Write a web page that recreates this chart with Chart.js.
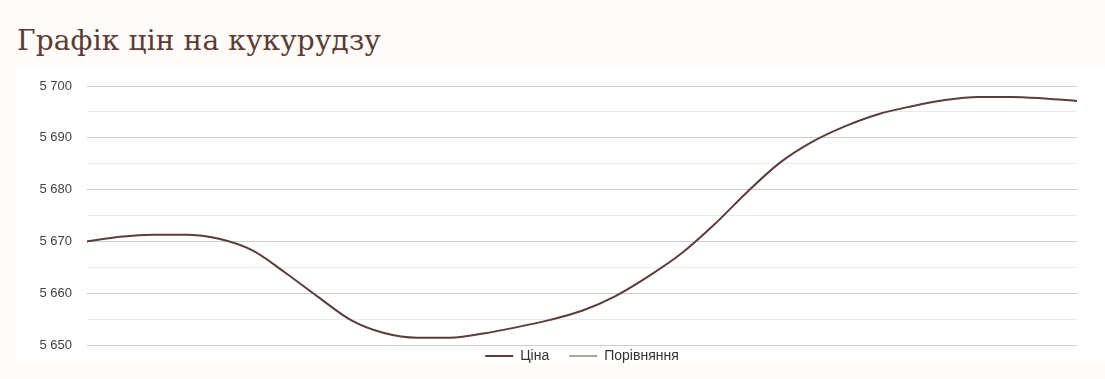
<!DOCTYPE html>
<html>
<head>
<meta charset="utf-8">
<script src="https://cdn.jsdelivr.net/npm/chart.js@4"></script>
<style>
  html, body { margin:0; padding:0; background:#fffbf8; width:1105px; height:379px; overflow:hidden; }
  #title { position:absolute; left:17px; top:24px; font-family:"DejaVu Serif", serif; font-size:28px; color:#5b3b35; white-space:nowrap; letter-spacing:0.15px; }
  #box { position:absolute; left:17px; top:66px; width:1088px; height:298px; background:#ffffff; }
  canvas { display:block; }
</style>
</head>
<body>
<div id="title">Графік цін на кукурудзу</div>
<div id="box"><canvas id="c" width="1088" height="298"></canvas></div>
<script>
const labels = ["1","2","3","4","5","6","7","8","9","10","11","12","13","14","15","16","17","18","19","20","21","22","23","24","25","26","27","28","29","30","31"];
const priceValues = [5670.0,5670.9,5671.3,5671.3,5670.5,5668.3,5664.0,5659.3,5654.8,5652.3,5651.4,5651.4,5652.2,5653.4,5654.8,5656.6,5659.4,5663.2,5667.6,5673.2,5679.5,5685.2,5689.3,5692.3,5694.6,5696.1,5697.3,5697.9,5697.9,5697.6,5697.1];
const compareValues = [];
const seriesNames = ["Ціна", "Порівняння"];
const yMin = 5650, yMax = 5700, yStep = 5;

const fmt = v => String(v).replace(/\B(?=(\d{3})+(?!\d))/g, " ");

const legendTweak = {
  id: 'legendTweak',
  beforeInit(chart) {
    const lg = chart.legend;
    if (!lg) return;
    const origFit = lg.fit.bind(lg);
    lg.fit = function () { origFit(); this.height = 19; };
    const origDraw = lg.draw.bind(lg);
    lg.draw = function () {
      const st = this.top, sb = this.bottom;
      this.top = chart.chartArea.bottom + 11 - 27;
      this.bottom = chart.height;
      origDraw();
      this.top = st; this.bottom = sb;
    };
  }
};

new Chart(document.getElementById('c'), {
  type: 'line',
  data: {
    labels: labels,
    datasets: [
      { label: seriesNames[0], data: priceValues, borderColor: '#5b3d39', backgroundColor: '#5b3d39', borderWidth: 2, pointRadius: 0, cubicInterpolationMode: 'monotone', fill: false },
      { label: seriesNames[1], data: compareValues, borderColor: '#a9a898', backgroundColor: '#a9a898', borderWidth: 2, pointRadius: 0, fill: false }
    ]
  },
  plugins: [legendTweak],
  options: {
    responsive: false,
    animation: false,
    maintainAspectRatio: false,
    layout: { padding: { left: 0, right: 28, top: 20, bottom: 0 } },
    plugins: {
      tooltip: { enabled: false },
      legend: {
        position: 'bottom',
        fullSize: false,
        labels: { boxWidth: 28, boxHeight: 2, padding: 20, color: '#333333', font: { family: 'Liberation Sans, Arial', size: 14 },
          generateLabels: chart => Chart.defaults.plugins.legend.labels.generateLabels(chart).map(l => Object.assign(l, { lineWidth: 0 })) }
      }
    },
    scales: {
      x: { display: false, offset: false },
      y: {
        min: yMin, max: yMax,
        afterFit: s => { s.width = 70; s.paddingBottom = 0; s.paddingTop = 0; },
        border: { display: false },
        grid: { drawTicks: false, color: ctx => (ctx.tick && ctx.tick.value % 10 === 0) ? '#cccccc' : '#ebebeb', lineWidth: 1 },
        ticks: { stepSize: yStep, autoSkip: false, padding: 15, color: '#444444', font: { family: 'Liberation Sans, Arial', size: 13 },
          callback: v => (v % 10 === 0 ? fmt(v) : '') }
      }
    }
  }
});
</script>
</body>
</html>
